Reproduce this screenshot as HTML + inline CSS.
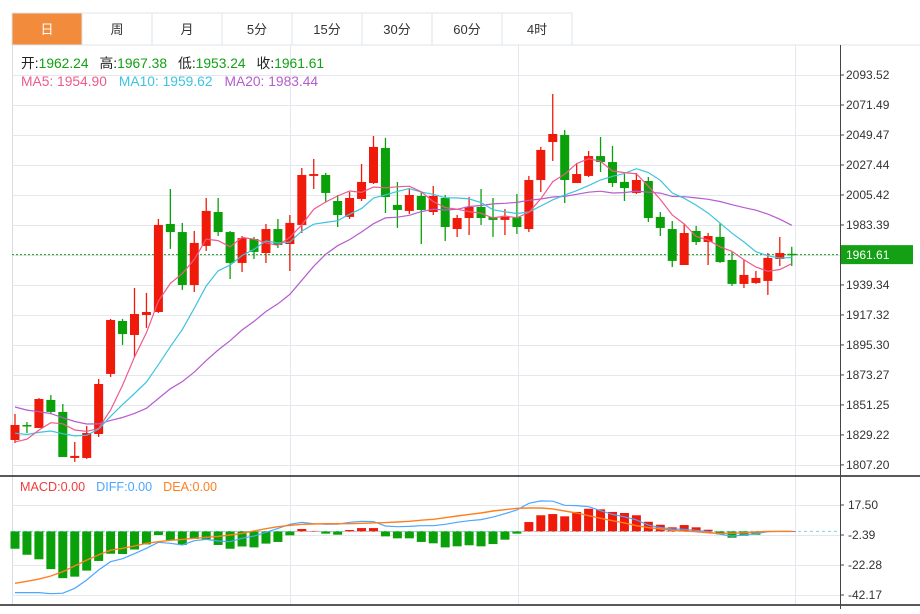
<!DOCTYPE html>
<html><head><meta charset="utf-8">
<style>
html,body{margin:0;padding:0;background:#fff;}
body{width:920px;height:609px;overflow:hidden;font-family:"Liberation Sans","Noto Sans CJK SC",sans-serif;}
svg text{font-family:"Liberation Sans","Noto Sans CJK SC",sans-serif;}
</style></head>
<body>
<svg id="chart" width="920" height="609" viewBox="0 0 920 609" xmlns="http://www.w3.org/2000/svg">
  <g id="tabs"></g>
  <g id="grid"></g>
  <g id="macdHist"></g>
  <g id="candles"></g>
  <g id="lines"></g>
  <g id="axes"></g>
  <g id="header">
    <text x="21" y="68" font-size="13.8"><tspan fill="#222">开:</tspan><tspan fill="#14a014">1962.24</tspan><tspan fill="#222" dx="11">高:</tspan><tspan fill="#14a014">1967.38</tspan><tspan fill="#222" dx="11">低:</tspan><tspan fill="#14a014">1953.24</tspan><tspan fill="#222" dx="11">收:</tspan><tspan fill="#14a014">1961.61</tspan></text>
    <text x="21" y="86" font-size="13.8"><tspan fill="#ef5a8a">MA5: 1954.90</tspan><tspan fill="#3cc4de" dx="12">MA10: 1959.62</tspan><tspan fill="#b55ccf" dx="12">MA20: 1983.44</tspan></text>
    <text x="20" y="491" font-size="12.6"><tspan fill="#f03c3c">MACD:0.00</tspan><tspan fill="#4da6ff" dx="11">DIFF:0.00</tspan><tspan fill="#ff7f1e" dx="11">DEA:0.00</tspan></text>
  </g>
</svg>
<script>
const NS='http://www.w3.org/2000/svg';
// ---- data ----
const tabLabels=['日','周','月','5分','15分','30分','60分','4时'];
const priceTicks=[2093.52,2071.49,2049.47,2027.44,2005.42,1983.39,1961.37,1939.34,1917.32,1895.30,1873.27,1851.25,1829.22,1807.20];
const macdTicks=[17.50,-2.39,-22.28,-42.17];
const prevCloses=[1882,1878,1875,1872,1870,1868,1865,1862,1860,1858,1845,1840,1836,1833,1830,1826,1822,1819,1817];
const opens=[1825.5,1836.5,1834.3,1854.9,1846.1,1812.3,1812.3,1829.9,1874.0,1912.9,1902.6,1917.3,1919.5,1984.1,1978.2,1939.3,1968.0,1992.9,1978.2,1955.5,1973.1,1962.8,1980.4,1969.4,1983.4,2019.4,2020.1,2001.0,1989.3,2002.5,2014.2,2039.9,1998.1,1993.7,2004.7,1992.9,2003.2,1980.4,1988.5,1996.6,1989.3,1987.1,1989.3,1980.4,2016.4,2044.3,2049.5,2014.2,2019.4,2034.0,2029.6,2015.0,2006.9,2015.7,1989.3,1980.4,1954.0,1979.0,1970.9,1974.6,1957.7,1940.1,1940.8,1942.3,1958.4,1962.24];
const highs=[1844.6,1838.7,1856.3,1858.5,1851.9,1824.0,1835.8,1870.3,1914.4,1914.4,1937.1,1933.5,1987.8,2009.8,1984.9,1979.0,2003.2,2003.2,1979.0,1975.3,1974.6,1984.1,1987.8,1990.7,2025.2,2031.9,2021.6,2005.4,2007.6,2028.2,2048.7,2047.3,2015.0,2009.8,2007.6,2012.0,2005.4,1990.7,2003.9,2009.8,2003.2,1995.1,2006.1,2019.4,2040.7,2079.6,2053.1,2028.9,2037.7,2048.0,2041.4,2020.8,2021.6,2018.6,1992.9,1986.3,1984.1,1982.7,1977.5,1984.9,1964.3,1957.7,1949.6,1962.8,1974.6,1967.38];
const lows=[1823.3,1830.6,1834.3,1845.3,1813.0,1809.4,1811.6,1827.7,1871.8,1895.3,1886.5,1907.8,1918.8,1965.8,1935.7,1934.2,1964.3,1975.3,1943.7,1948.9,1958.4,1955.5,1966.5,1949.6,1977.5,2009.8,2000.3,1981.9,1987.8,2001.0,2013.5,1992.2,1981.2,1991.5,1969.4,1990.7,1971.6,1974.6,1976.0,1983.4,1974.6,1976.0,1976.8,1978.2,2007.6,2030.4,1999.5,2014.2,2018.6,2022.3,2011.3,2001.0,2006.1,1985.6,1975.3,1952.5,1954.0,1968.7,1954.0,1955.5,1938.6,1937.1,1940.1,1932.0,1953.3,1953.24];
const closes=[1836.5,1835.8,1855.6,1846.1,1813.0,1813.8,1830.6,1866.6,1913.6,1903.3,1918.0,1919.5,1983.4,1978.2,1939.3,1970.2,1993.7,1978.2,1955.5,1973.8,1963.6,1980.4,1968.7,1984.9,2020.1,2020.8,2006.9,1990.7,2003.2,2015.0,2040.7,2003.9,1994.4,2005.4,1994.4,2004.7,1981.9,1988.5,1996.6,1988.5,1987.1,1989.3,1981.9,2016.4,2038.5,2050.2,2016.4,2020.8,2034.0,2029.6,2014.2,2010.5,2016.4,1988.5,1981.2,1957.0,1977.5,1970.9,1975.3,1956.2,1940.1,1946.7,1944.5,1959.2,1962.8,1961.61];
const macdHist=[-11.5,-15.5,-18.5,-25,-31,-30,-26,-19.6,-14.8,-15,-12,-8.6,-2.4,-5.7,-9,-5,-5.3,-9,-11.5,-10,-10.6,-8.1,-7,-2.6,1.6,0.3,-1.5,-2.2,0.9,2.2,2.2,-3.3,-4.6,-4.6,-7,-7.9,-10.6,-9.9,-9.2,-9.9,-8.4,-5.5,-1.5,6.2,10.7,11.5,10,12.9,15,14.6,12.9,12.2,10.7,6.4,4.4,2.7,4.2,2.7,1.1,-1.9,-4.2,-2.9,-2.2,0,0,0];
const diffLine=[-40.6,-40.6,-40.6,-41.3,-41,-37.7,-32.2,-25.6,-20.1,-18.1,-14.8,-11.2,-7.2,-7.9,-9,-6.2,-5.3,-6.4,-6.8,-4.6,-3.1,-0.6,2,4.7,6,5.1,4.7,4.8,6,6.7,6.5,3.6,3.1,3.3,3.8,3.8,4.7,6,7.1,7.8,9.5,11.7,14.2,18.6,20.2,20,17.3,17.1,16.4,13.7,11.3,9.7,7.6,4.2,2.5,1.6,1.4,0.7,-0.2,-1.9,-3.1,-2.4,-1.5,-0.2,0,0];
const deaLine=[-34.4,-33.1,-31.6,-29.6,-26.7,-22.9,-19,-15.6,-12.5,-11.2,-9.7,-7.9,-6.8,-5.9,-5.3,-4.6,-3.9,-3.3,-2.4,-1.3,0.3,1.8,3.1,4,4.7,4.9,5.1,5.1,5.1,5.4,5.6,5.8,6.2,6.7,7.4,8,9.1,10.2,11.3,12.2,13.5,14.4,15.3,15.5,15.5,14.9,13.5,12.2,10.4,8.7,7.1,5.6,3.8,2.5,1.6,0.7,0.2,-0.2,-0.9,-1.3,-1.2,-0.9,-0.4,0,0,0];
const lastPrice=1961.61;

// ---- scales ----
const X0=15, STEP=11.95, PLOT_L=12, PLOT_R=840;
const xAt=i=>X0+i*STEP;
const yP=p=>75+(2093.52-p)*30/22.03;
const yM=v=>535-(v+2.39)*30/19.89;

function mk(tag,attrs,parent){const e=document.createElementNS(NS,tag);for(const k in attrs)e.setAttribute(k,attrs[k]);parent.appendChild(e);return e;}
const gTabs=document.getElementById('tabs'),gGrid=document.getElementById('grid'),gC=document.getElementById('candles'),gL=document.getElementById('lines'),gA=document.getElementById('axes'),gH=document.getElementById('macdHist');

// tabs
tabLabels.forEach((t,i)=>{
  const x=12+i*70;
  const r=mk('rect',{x:x,y:13,width:70,height:32,fill:i===0?'#f28c3c':'#fff',stroke:'#dfe4ea','stroke-width':1},gTabs);
  
  
  const tx=mk('text',{x:x+35,y:34,'text-anchor':'middle','font-size':13,fill:i===0?'#fff':'#333'},gTabs);
  tx.textContent=t;
  
  
});

// grid
mk('line',{x1:12,y1:45,x2:920,y2:45,stroke:'#dfe4ea'},gGrid);
mk('line',{x1:12.5,y1:45,x2:12.5,y2:605,stroke:'#d8dde3'},gGrid);
priceTicks.forEach(p=>{const y=Math.round(yP(p))+0.5;mk('line',{x1:12,y1:y,x2:PLOT_R,y2:y,stroke:'#e3e8ee'},gGrid);});
macdTicks.forEach(v=>{const y=Math.round(yM(v))+0.5;mk('line',{x1:12,y1:y,x2:PLOT_R,y2:y,stroke:'#e3e8ee'},gGrid);});
[290,518,795].forEach(x=>{mk('line',{x1:x+0.5,y1:45,x2:x+0.5,y2:605,stroke:'#e3e8ee'},gGrid);});
mk('line',{x1:0,y1:476,x2:920,y2:476,stroke:'#222','stroke-width':1.5},gGrid);
mk('line',{x1:0,y1:605,x2:920,y2:605,stroke:'#222','stroke-width':1.5},gGrid);
mk('line',{x1:840.5,y1:45,x2:840.5,y2:609,stroke:'#444'},gGrid);
mk('line',{x1:12,y1:yM(0),x2:PLOT_R,y2:yM(0),stroke:'#8ccbe8','stroke-dasharray':'3,3'},gGrid);
mk('line',{x1:12,y1:yP(lastPrice),x2:PLOT_R,y2:yP(lastPrice),stroke:'#1a9e1a','stroke-dasharray':'2,2'},gGrid);

// axis labels
priceTicks.forEach(p=>{const t=mk('text',{x:846,y:yP(p)+4,'font-size':12,fill:'#333'},gA);t.textContent=p.toFixed(2);mk('line',{x1:840,y1:yP(p),x2:844,y2:yP(p),stroke:'#444'},gA);});
macdTicks.forEach(v=>{const t=mk('text',{x:848,y:yM(v)+4,'font-size':12,fill:'#333'},gA);t.textContent=v.toFixed(2);mk('line',{x1:840,y1:yM(v),x2:844,y2:yM(v),stroke:'#444'},gA);});
const lp=mk('rect',{x:841,y:yP(lastPrice)-9.5,width:72,height:19,fill:'#14a014'},gA);


const lpt=mk('text',{x:846,y:yP(lastPrice)+4.5,'font-size':12,fill:'#fff'},gA);lpt.textContent=lastPrice.toFixed(2);

// candles
const RED='#f01a0a',GREEN='#0aa00a';
opens.forEach((o,i)=>{
  const c=closes[i],x=xAt(i),up=c>o,col=up?RED:GREEN;
  const g=mk('g',{},gC);
  
  
  mk('line',{x1:x,y1:yP(highs[i]),x2:x,y2:yP(lows[i]),stroke:col,'stroke-width':1.3},g);
  const top=yP(Math.max(o,c)),bot=yP(Math.min(o,c));
  mk('rect',{x:x-4.5,y:top,width:9,height:Math.max(1.5,bot-top),fill:col},g);
});

// MAs
const all=prevCloses.concat(closes);
function ma(n){return closes.map((_,i)=>{const j=i+prevCloses.length;let s=0;for(let k=j-n+1;k<=j;k++)s+=all[k];return s/n;});}
function poly(vals,ys,color,name,w){
  const pts=vals.map((v,i)=>xAt(i).toFixed(1)+','+ys(v).toFixed(1)).join(' ');
  const p=mk('polyline',{points:pts,fill:'none',stroke:color,'stroke-width':w||1.2},gL);
  
  
}
poly(ma(20),yP,'#b55ccf','ma20-line');
poly(ma(10),yP,'#3cc4de','ma10-line');
poly(ma(5),yP,'#ef5a8a','ma5-line');

// MACD histogram
macdHist.forEach((v,i)=>{
  const y0=yM(0),y1=yM(v);
  const r=mk('rect',{x:xAt(i)-4.5,y:Math.min(y0,y1),width:9,height:Math.max(0.5,Math.abs(y1-y0)),fill:v>=0?RED:GREEN},gH);
  
  
});
poly(diffLine,yM,'#4da6ff','diff-line');
poly(deaLine,yM,'#ff7f1e','dea-line',1.4);
</script>
</body></html>
